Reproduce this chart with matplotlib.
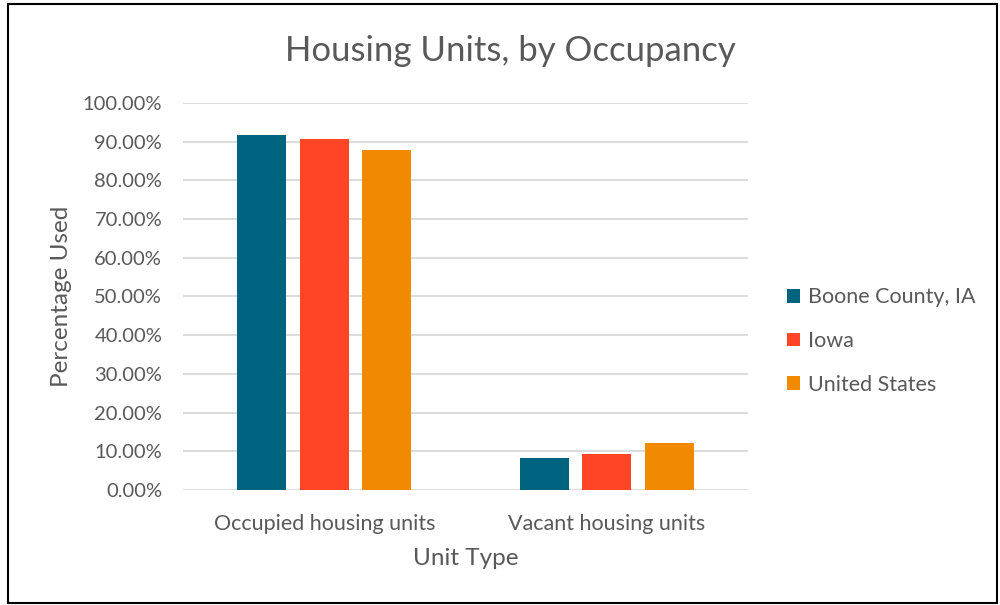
import matplotlib.pyplot as plt
import numpy as np
from matplotlib.patches import Rectangle

plt.rcParams['font.family'] = ['Lato', 'DejaVu Sans']

categories = ['Occupied housing units', 'Vacant housing units']
series = ['Boone County, IA', 'Iowa', 'United States']
boone = [91.6, 8.4]
iowa = [90.7, 9.3]
usa = [87.9, 12.1]
colors = ['#006480', '#FF4526', '#F28A00']
yticks = np.arange(0, 101, 10)

text_color = '#595959'

fig = plt.figure(figsize=(10, 6.05), dpi=100)
ax = fig.add_axes([0.183, 0.19, 0.565, 0.64])

x = np.arange(len(categories))
width = 0.173
offsets = [-0.221, 0, 0.221]
for vals, off, col, name in zip([boone, iowa, usa], offsets, colors, series):
    ax.bar(x + off, vals, width, color=col, label=name, zorder=3)

ax.set_xlim(-0.5, 1.5)
ax.set_ylim(0, 100)
ax.set_yticks(yticks)
ax.set_yticklabels([f'{v:.2f}%' for v in yticks])
ax.set_xticks(x)
ax.set_xticklabels(categories)
ax.grid(axis='y', color='#d9d9d9', linewidth=1.3, zorder=0)
for s in ax.spines.values():
    s.set_visible(False)
ax.tick_params(axis='both', length=0, colors=text_color)
ax.tick_params(axis='y', pad=15, labelsize=14.5)
ax.tick_params(axis='x', pad=17, labelsize=15.5)

ax.set_xlabel('Unit Type', fontsize=17.5, color=text_color, labelpad=10)
ax.set_ylabel('Percentage Used', fontsize=17.5, color=text_color, labelpad=8)
fig.text(0.51, 0.915, 'Housing Units, by Occupancy', fontsize=25,
         color=text_color, ha='center', va='center')

ax.legend(loc='center left', bbox_to_anchor=(1.035, 0.385), frameon=False,
          fontsize=15.5, labelcolor=text_color, handlelength=0.6, handleheight=0.6,
          handletextpad=0.35, labelspacing=1.1)

fig.patches.append(Rectangle((0.008, 0.003), 0.989, 0.99, transform=fig.transFigure,
                             fill=False, edgecolor='black', linewidth=1.5))

fig.savefig('out.png', dpi=100)
